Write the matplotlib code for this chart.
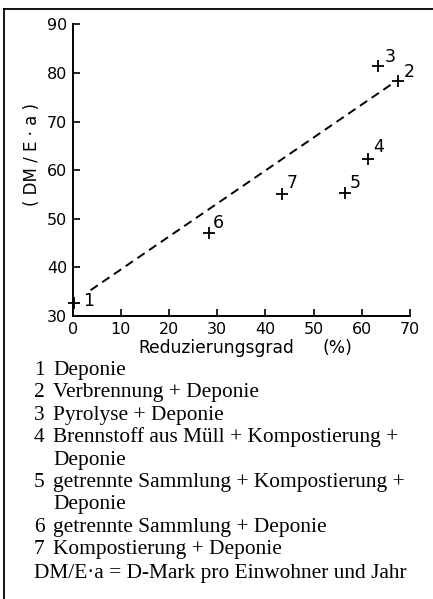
import matplotlib
matplotlib.use('Agg')
import matplotlib.pyplot as plt
from matplotlib.lines import Line2D

# data
point_ids = ['1', '2', '3', '4', '5', '6', '7']
reduction = [0.2, 67.5, 63.3, 61.2, 56.5, 28.3, 43.5]
cost = [32.6, 78.4, 81.5, 62.3, 55.2, 47.0, 55.0]
label_offsets = [(15, 2), (11, 9), (12, 9), (11, 12), (10, 10), (9, 10), (10, 11)]

trend_x = [3.7, 66.5]
trend_y = [35.3, 77.9]

x_ticks = [0, 10, 20, 30, 40, 50, 60, 70]
y_ticks = [30, 40, 50, 60, 70, 80, 90]

legend_numbers = ['1', '2', '3', '4', '', '5', '', '6', '7']
legend_texts = ['Deponie',
                'Verbrennung + Deponie',
                'Pyrolyse + Deponie',
                'Brennstoff aus Müll + Kompostierung +',
                'Deponie',
                'getrennte Sammlung + Kompostierung +',
                'Deponie',
                'getrennte Sammlung + Deponie',
                'Kompostierung + Deponie']
footnote = 'DM/E·a = D-Mark pro Einwohner und Jahr'

W, H = 433, 599
fig = plt.figure(figsize=(W / 100, H / 100), dpi=100)
ax = fig.add_axes([72.7 / W, 1 - 316 / H, (410 - 72.7) / W, (316 - 24.3) / H])

ax.plot(trend_x, trend_y, color='black', lw=1.4, dashes=(4.5, 2.8))
ax.plot(reduction, cost, linestyle='none', marker='+', ms=8.5, mew=1.3,
        color='black', clip_on=False)
for pid, x, y, off in zip(point_ids, reduction, cost, label_offsets):
    ax.annotate(pid, (x, y), xytext=off, textcoords='offset pixels',
                ha='center', va='center', fontsize=12.5, family='DejaVu Sans')

ax.set_xlim(0, 70)
ax.set_ylim(30, 90)
ax.set_xticks(x_ticks)
ax.set_yticks(y_ticks)
ax.tick_params(direction='in', length=5, width=1.2, labelsize=11.5, pad=4)
for s in ['top', 'right']:
    ax.spines[s].set_visible(False)
for s in ['left', 'bottom']:
    ax.spines[s].set_linewidth(1.4)
ax.patch.set_alpha(0)

fig.text(32 / W, 1 - 154 / H, '( DM / E · a )', rotation=90, ha='center',
         va='center', fontsize=12)
fig.text(138 / W, 1 - 348 / H, 'Reduzierungsgrad', ha='left', va='center',
         fontsize=12.3)
fig.text(322 / W, 1 - 348 / H, '(%)', ha='left', va='center', fontsize=12.3)

# legend block under the chart
for i, (num, txt) in enumerate(zip(legend_numbers, legend_texts)):
    yb = 1 - (375 + 22.4 * i) / H
    if num:
        fig.text(34 / W, yb, num, ha='left', va='baseline', fontsize=15.4,
                 family='Liberation Serif')
    fig.text(53 / W, yb, txt, ha='left', va='baseline', fontsize=15.4,
             family='Liberation Serif')
fig.text(34 / W, 1 - 578 / H, footnote, ha='left', va='baseline',
         fontsize=15.4, family='Liberation Serif')

# frame lines (top and left)
fig.add_artist(Line2D([4 / W, 1], [1 - 9 / H, 1 - 9 / H], color='black', lw=1.3))
fig.add_artist(Line2D([4 / W, 4 / W], [0, 1 - 9 / H], color='black', lw=1.3))

fig.savefig('out.png', dpi=100)
